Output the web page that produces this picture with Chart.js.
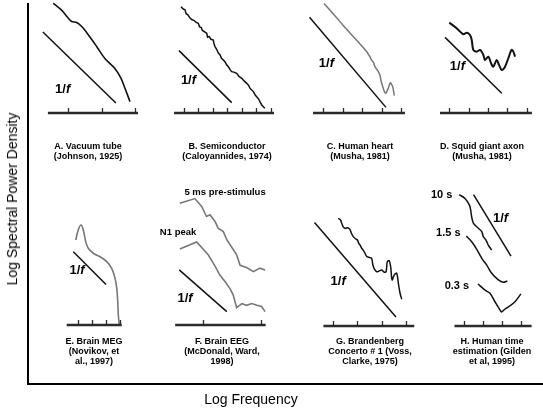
<!DOCTYPE html>
<html>
<head>
<meta charset="utf-8">
<script src="https://cdn.jsdelivr.net/npm/chart.js@4.4.0/dist/chart.umd.min.js"></script>
<style>
  html, body { margin: 0; padding: 0; background: #fff; }
  #fig { position: relative; width: 543px; height: 411px; overflow: hidden; font-family: "Liberation Sans", Arial, sans-serif; }
  .caption { position: absolute; width: 130px; text-align: center; font-weight: bold; font-size: 9px; line-height: 10px; color: #000; }
  .axis-title { position: absolute; font-size: 14px; color: #000; white-space: nowrap; transform: translate(-50%, -50%); }
</style>
</head>
<body>
<div id="fig"></div>
<script>
// Datos (x = log frecuencia, y = log potencia, en unidades de marca)
const tubeNoise = [[-0.44, 3.28], [-0.19, 3.07], [0.01, 2.83], [0.11, 2.73], [0.26, 2.70], [0.41, 2.58], [0.61, 2.33], [0.86, 1.98], [1.10, 1.63], [1.40, 1.33], [1.58, 1.04], [1.70, 0.74], [1.85, 0.34]];
const tubeSlope = [[-0.75, 2.42], [1.43, 0.30]];

const semiNoise = [[-0.17, 7.28], [0.0, 7.10], [0.10, 7.08], [0.18, 6.80], [0.30, 6.72], [0.45, 6.50], [0.56, 6.40], [0.70, 6.35], [0.85, 6.22], [1.01, 6.14], [1.10, 5.90], [1.22, 5.85], [1.29, 5.65], [1.45, 5.55], [1.59, 5.46], [1.65, 5.20], [1.75, 5.25], [1.88, 5.05], [2.04, 5.00], [2.10, 4.70], [2.16, 4.55], [2.28, 4.35], [2.38, 4.10], [2.50, 4.00], [2.60, 3.75], [2.73, 3.63], [2.85, 3.50], [2.95, 3.30], [3.07, 3.17], [3.20, 2.95], [3.30, 2.83], [3.45, 2.80], [3.64, 2.72], [3.80, 2.50], [3.99, 2.38], [4.15, 2.20], [4.33, 2.03], [4.45, 1.90], [4.55, 1.70], [4.67, 1.58], [4.80, 1.45], [4.90, 1.25], [5.01, 1.12], [5.15, 0.95], [5.25, 0.75], [5.36, 0.55], [5.50, 0.40], [5.58, 0.32]];
const semiSlope = [[-0.31, 4.27], [3.30, 0.71]];

const heartNoise = [[0.04, 5.65], [0.45, 5.18], [0.86, 4.71], [1.20, 4.32], [1.55, 3.93], [1.90, 3.55], [2.24, 3.16], [2.40, 2.90], [2.49, 2.73], [2.58, 2.62], [2.66, 2.39], [2.72, 2.30], [2.78, 2.22], [2.85, 2.10], [2.92, 1.96], [2.97, 1.70], [3.01, 1.53], [3.09, 1.27], [3.16, 1.08], [3.23, 1.02], [3.30, 1.18], [3.35, 1.27], [3.42, 1.50], [3.47, 1.56], [3.53, 1.45], [3.58, 1.36], [3.66, 0.89]];
const heartSlope = [[-0.71, 4.93], [3.23, 0.29]];

const axonNoise = [[0, 4.67], [0.38, 4.38], [0.72, 4.07], [0.90, 4.15], [1.07, 4.03], [1.16, 3.77], [1.24, 3.26], [1.42, 3.17], [1.59, 3.26], [1.76, 3.00], [1.84, 2.74], [2.02, 2.91], [2.16, 2.57], [2.27, 2.39], [2.45, 2.74], [2.57, 2.48], [2.71, 2.22], [2.88, 2.39], [3.05, 2.83], [3.22, 3.26], [3.31, 3.17], [3.40, 2.91]];
const axonSlope = [[-0.22, 3.91], [2.71, 1.02]];

const megNoise = [[-0.14, 6.03], [0.04, 6.74], [0.23, 7.09], [0.40, 6.74], [0.57, 5.91], [0.75, 5.44], [1.11, 5.09], [1.58, 4.84], [2.06, 4.49], [2.41, 4.02], [2.65, 3.31], [2.77, 2.60], [2.84, 1.65], [2.88, 0.71], [2.95, 0]];
const megSlope = [[-0.31, 5.2], [2.01, 2.87]];

const eegPreStimulus = [[-0.40, 2.10], [-0.14, 2.18], [-0.02, 2.04], [0.06, 1.87], [0.12, 1.90], [0.21, 1.78], [0.26, 1.67], [0.35, 1.61], [0.41, 1.47], [0.49, 1.35], [0.58, 1.21], [0.64, 1.03], [0.75, 0.99], [0.87, 0.92], [0.98, 0.98], [1.07, 0.95]];
const eegN1Peak = [[-0.40, 1.31], [-0.11, 1.43], [0.09, 1.21], [0.21, 1.01], [0.29, 0.86], [0.38, 0.75], [0.47, 0.62], [0.52, 0.52], [0.58, 0.30], [0.67, 0.37], [0.75, 0.34], [0.84, 0.37], [0.93, 0.34], [1.01, 0.32], [1.07, 0.23]];
const eegSlope = [[-0.41, 0.95], [0.41, 0.23]];

const musicNoise = [[0.21, 4.47], [0.30, 4.40], [0.35, 4.26], [0.42, 4.10], [0.49, 4.05], [0.60, 4.08], [0.69, 4.01], [0.75, 3.85], [0.83, 3.71], [0.92, 3.62], [1.00, 3.57], [1.06, 3.42], [1.11, 3.36], [1.18, 3.22], [1.24, 3.15], [1.30, 3.05], [1.39, 2.88], [1.50, 2.84], [1.59, 2.81], [1.64, 2.55], [1.69, 2.39], [1.80, 2.25], [1.90, 2.28], [2.01, 2.32], [2.10, 2.24], [2.19, 2.25], [2.24, 2.67], [2.32, 2.71], [2.38, 2.46], [2.44, 1.91], [2.53, 2.12], [2.63, 2.19], [2.70, 1.77], [2.77, 1.36], [2.84, 1.11]];
const musicSlope = [[-0.78, 4.29], [2.60, 0.37]];

const time10s = [[-0.25, 6.88], [0.05, 6.68], [0.28, 6.34], [0.35, 6.07], [0.40, 5.72], [0.49, 5.39], [0.75, 5.12], [0.93, 4.94], [1.01, 4.68], [1.15, 4.50], [1.27, 4.24], [1.45, 3.98]];
const time1_5s = [[0.12, 4.71], [0.40, 4.41], [0.66, 4.03], [0.93, 3.54], [1.19, 3.19], [1.45, 2.76], [1.80, 2.41], [2.06, 2.29], [2.27, 2.36]];
const time0_3s = [[0.73, 2.20], [1.10, 1.88], [1.36, 1.71], [1.62, 1.27], [1.88, 0.84], [1.97, 0.73], [2.15, 0.89], [2.41, 1.06], [2.67, 1.27], [2.98, 1.68]];
const timeSlope = [[0.50, 6.88], [2.46, 3.66]];

// Textos
const yTitle = 'Log Spectral Power Density';
const xTitle = 'Log Frequency';
const captionsA = ['A. Vacuum tube', '(Johnson, 1925)'];
const captionsB = ['B. Semiconductor', '(Caloyannides, 1974)'];
const captionsC = ['C. Human heart', '(Musha, 1981)'];
const captionsD = ['D. Squid giant axon', '(Musha, 1981)'];
const captionsE = ['E. Brain MEG', '(Novikov, et', 'al., 1997)'];
const captionsF = ['F. Brain EEG', '(McDonald, Ward,', '1998)'];
const captionsG = ['G. Brandenberg', 'Concerto # 1 (Voss,', 'Clarke, 1975)'];
const captionsH = ['H. Human time', 'estimation (Gilden', 'et al, 1995)'];

const BLACK = '#111';
const GREY = '#777';

// Paneles: caja en píxeles, origen (marca 0 sobre el eje) y tamaño de unidad
const panels = [
  { id: 'A', box: [36, 0, 108, 118], origin: [68, 113], unit: 33.5, axis: [-0.6, 2.09], ticks: [0, 1, 2],
    series: [{ data: tubeNoise, color: BLACK, width: 1.6, tension: 0.3 }, { data: tubeSlope, color: BLACK, width: 1.5, tension: 0 }],
    labels: [{ text: '1/f', x: -0.16, y: 0.69, size: 13 }], caption: captionsA, cx: 88, cy: 141 },
  { id: 'B', box: [166, 0, 112, 118], origin: [183.5, 113], unit: 14.6, axis: [-0.65, 6.2], ticks: [0, 1, 2, 3, 4, 5, 6],
    series: [{ data: semiNoise, color: BLACK, width: 1.5, tension: 0 }, { data: semiSlope, color: BLACK, width: 1.5, tension: 0 }],
    labels: [{ text: '1/f', x: 0.34, y: 2.26, size: 13 }], caption: captionsB, cx: 227, cy: 141 },
  { id: 'C', box: [300, 0, 110, 118], origin: [323.3, 113], unit: 19.4, axis: [-0.53, 4.21], ticks: [0, 1, 2, 3, 4],
    series: [{ data: heartNoise, color: GREY, width: 1.5, tension: 0.2 }, { data: heartSlope, color: BLACK, width: 1.5, tension: 0 }],
    labels: [{ text: '1/f', x: 0.16, y: 2.58, size: 13 }], caption: captionsC, cx: 360, cy: 141 },
  { id: 'D', box: [432, 0, 108, 118], origin: [449.3, 113], unit: 19.35, axis: [-0.48, 4.27], ticks: [0, 1, 2, 3, 4],
    series: [{ data: axonNoise, color: BLACK, width: 2, tension: 0.3 }, { data: axonSlope, color: BLACK, width: 1.5, tension: 0 }],
    labels: [{ text: '1/f', x: 0.42, y: 2.43, size: 13 }], caption: captionsD, cx: 482, cy: 141 },
  { id: 'E', box: [58, 215, 75, 115], origin: [77.7, 325], unit: 14.1, axis: [-0.78, 3.12], ticks: [0, 1, 2, 3],
    series: [{ data: megNoise, color: GREY, width: 1.6, tension: 0.4 }, { data: megSlope, color: BLACK, width: 1.5, tension: 0 }],
    labels: [{ text: '1/f', x: -0.05, y: 3.9, size: 13 }], caption: captionsE, cx: 94, cy: 336 },
  { id: 'F', box: [150, 185, 125, 145], origin: [203, 325], unit: 58, axis: [-0.48, 1.08], ticks: [0, 1],
    series: [{ data: eegPreStimulus, color: GREY, width: 1.6, tension: 0 }, { data: eegN1Peak, color: GREY, width: 1.6, tension: 0 }, { data: eegSlope, color: BLACK, width: 1.5, tension: 0 }],
    labels: [{ text: '5 ms pre-stimulus', x: 0.38, y: 2.28, size: 9.5 }, { text: 'N1 peak', x: -0.43, y: 1.60, size: 9.5 }, { text: '1/f', x: -0.31, y: 0.45, size: 13 }],
    caption: captionsF, cx: 222, cy: 336 },
  { id: 'G', box: [305, 205, 115, 126], origin: [333.3, 326], unit: 24.1, axis: [-0.41, 3.36], ticks: [0, 1, 2, 3],
    series: [{ data: musicNoise, color: BLACK, width: 1.5, tension: 0.3 }, { data: musicSlope, color: BLACK, width: 1.5, tension: 0 }],
    labels: [{ text: '1/f', x: 0.2, y: 1.83, size: 13 }], caption: captionsG, cx: 370, cy: 336 },
  { id: 'H', box: [428, 185, 112, 146], origin: [464, 326], unit: 19.1, axis: [-0.5, 3.54], ticks: [0, 1, 2, 3],
    series: [{ data: time10s, color: BLACK, width: 1.5, tension: 0.3 }, { data: time1_5s, color: BLACK, width: 1.5, tension: 0.3 }, { data: time0_3s, color: BLACK, width: 1.5, tension: 0.3 }, { data: timeSlope, color: BLACK, width: 1.5, tension: 0 }],
    labels: [{ text: '10 s', x: -1.17, y: 6.88, size: 11 }, { text: '1.5 s', x: -0.82, y: 4.85, size: 11 }, { text: '0.3 s', x: -0.37, y: 2.12, size: 11 }, { text: '1/f', x: 1.91, y: 5.64, size: 13 }],
    caption: captionsH, cx: 492, cy: 336 }
];

const fig = document.getElementById('fig');
const toPoints = pairs => pairs.map(([x, y]) => ({ x, y }));

function addCanvas(left, top, width, height) {
  const canvas = document.createElement('canvas');
  canvas.width = width;
  canvas.height = height;
  canvas.style.cssText = `position:absolute;left:${left}px;top:${top}px;width:${width}px;height:${height}px`;
  fig.appendChild(canvas);
  return canvas;
}

function addText(cls, html, style) {
  const div = document.createElement('div');
  div.className = cls;
  div.innerHTML = html;
  Object.assign(div.style, style);
  fig.appendChild(div);
}

// "1/f" lleva la f en cursiva
function drawLabel(ctx, text, cx, cy, size) {
  const parts = text === '1/f' ? [['1/', ''], ['f', 'italic ']] : [[text, '']];
  const fonts = parts.map(([, style]) => `${style}bold ${size}px "Liberation Sans", Arial, sans-serif`);
  const widths = parts.map(([s], i) => { ctx.font = fonts[i]; return ctx.measureText(s).width; });
  let left = cx - widths.reduce((a, b) => a + b, 0) / 2;
  parts.forEach(([s], i) => {
    ctx.font = fonts[i];
    ctx.fillText(s, left, cy);
    left += widths[i];
  });
}

// Eje de cada panel con marcas hacia arriba, más las etiquetas internas
function panelDecor(p) {
  return {
    id: 'panelDecor' + p.id,
    afterDatasetsDraw(chart) {
      const { ctx, scales: { x, y } } = chart;
      const base = y.getPixelForValue(0);
      ctx.save();
      ctx.strokeStyle = '#2b2b2b';
      ctx.lineWidth = 2.5;
      ctx.beginPath();
      ctx.moveTo(x.getPixelForValue(p.axis[0]), base);
      ctx.lineTo(x.getPixelForValue(p.axis[1]), base);
      ctx.stroke();
      ctx.lineWidth = 1.3;
      ctx.beginPath();
      p.ticks.forEach(t => {
        const px = Math.round(x.getPixelForValue(t)) + 0.5;
        ctx.moveTo(px, base);
        ctx.lineTo(px, base - 5);
      });
      ctx.stroke();
      ctx.fillStyle = '#000';
      ctx.textAlign = 'left';
      ctx.textBaseline = 'middle';
      p.labels.forEach(l => drawLabel(ctx, l.text, x.getPixelForValue(l.x), y.getPixelForValue(l.y), l.size));
      ctx.restore();
    }
  };
}

// Marco exterior (ejes generales)
new Chart(addCanvas(0, 0, 543, 411), {
  type: 'scatter',
  data: { datasets: [] },
  options: {
    responsive: false,
    animation: false,
    events: [],
    layout: { padding: { left: 28, top: 4, right: 0, bottom: 27 } },
    plugins: { legend: { display: false }, tooltip: { enabled: false } },
    scales: {
      x: { type: 'linear', min: 0, max: 1, ticks: { display: false }, grid: { display: false, drawTicks: false }, border: { display: true, color: '#000', width: 2 } },
      y: { type: 'linear', min: 0, max: 1, ticks: { display: false }, grid: { display: false, drawTicks: false }, border: { display: true, color: '#000', width: 2 } }
    }
  }
});

addText('axis-title', yTitle, { left: '12px', top: '199px', transform: 'translate(-50%, -50%) rotate(-90deg)' });
addText('axis-title', xTitle, { left: '251px', top: '399px' });

panels.forEach(p => {
  const [bx, by, bw, bh] = p.box;
  const [ox, oy] = p.origin;
  new Chart(addCanvas(bx, by, bw, bh), {
    type: 'scatter',
    data: {
      datasets: p.series.map(s => ({
        data: toPoints(s.data),
        showLine: true,
        borderColor: s.color,
        borderWidth: s.width,
        tension: s.tension,
        pointRadius: 0,
        clip: false
      }))
    },
    options: {
      responsive: false,
      animation: false,
      events: [],
      layout: { padding: 0 },
      plugins: { legend: { display: false }, tooltip: { enabled: false } },
      scales: {
        x: { type: 'linear', display: false, min: (bx - ox) / p.unit, max: (bx + bw - ox) / p.unit },
        y: { type: 'linear', display: false, min: (oy - by - bh) / p.unit, max: (oy - by) / p.unit }
      }
    },
    plugins: [panelDecor(p)]
  });
  addText('caption', p.caption.join('<br>'), { left: (p.cx - 65) + 'px', top: p.cy + 'px' });
});
</script>
</body>
</html>
